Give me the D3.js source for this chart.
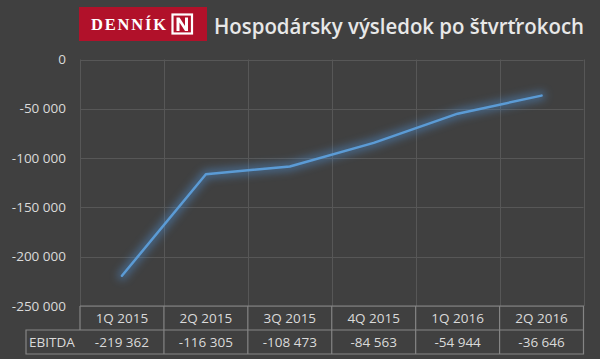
<!DOCTYPE html>
<html>
<head>
<meta charset="utf-8">
<script src="https://cdn.jsdelivr.net/npm/d3@7"></script>
<style>
  body { margin: 0; background: #404040; }
  svg { display: block; }
</style>
</head>
<body>
<svg id="chart" width="600" height="359"></svg>
<script>
// data
var quarters = ["1Q 2015", "2Q 2015", "3Q 2015", "4Q 2015", "1Q 2016", "2Q 2016"];
var ebitda = [-219362, -116305, -108473, -84563, -54944, -36646];
var yTicks = [0, -50000, -100000, -150000, -200000, -250000];
var seriesName = "EBITDA";
var title = "Hospodársky výsledok po štvrťrokoch";

var loc = d3.formatLocale({ decimal: ",", thousands: " ", grouping: [3], currency: ["", ""], minus: "-" });
var fmt = loc.format(",d");

var svg = d3.select("#chart");
var plotL = 80, plotR = 583.5, plotT = 59.5, plotB = 306;
var rowH = 24, labelLeft = 26;
var textCol = "#dadada", gridCol = "#575757", tableCol = "#858585";

svg.append("rect").attr("width", 600).attr("height", 359).attr("fill", "#404040");

var x = d3.scaleBand().domain(quarters).range([plotL, plotR]);
var y = d3.scaleLinear().domain([-250000, 0]).range([plotB, plotT]);

// glow filter
var defs = svg.append("defs");
var f = defs.append("filter").attr("id", "glow")
    .attr("x", "-20%").attr("y", "-20%").attr("width", "140%").attr("height", "140%");
f.append("feGaussianBlur").attr("in", "SourceGraphic").attr("stdDeviation", 4);

// header
svg.append("rect").attr("x", 79).attr("y", 7).attr("width", 128).attr("height", 34).attr("fill", "#b1112a");
svg.append("text").attr("x", 91).attr("y", 29.5)
    .attr("font-family", "Liberation Serif, DejaVu Serif, serif").attr("font-weight", "bold")
    .attr("font-size", 16.5).attr("fill", "#fff")
    .attr("textLength", 75).attr("lengthAdjust", "spacing")
    .text("DENNÍK");
svg.append("rect").attr("x", 172.5).attr("y", 14.5).attr("width", 19.5).attr("height", 19)
    .attr("fill", "none").attr("stroke", "#fff").attr("stroke-width", 2.2);
svg.append("path")
    .attr("d", "M176.5,31 L176.5,17.5 L179.5,17.5 L185,26 L185,17.5 L188,17.5 L188,31 L185,31 L179.5,22.5 L179.5,31 Z")
    .attr("fill", "#fff");
svg.append("text").attr("x", 214).attr("y", 33.5)
    .attr("font-family", "Open Sans, sans-serif").attr("font-weight", 600)
    .attr("font-size", 21).attr("fill", "#e8e8e8")
    .attr("textLength", 370).attr("lengthAdjust", "spacingAndGlyphs")
    .text(title);

// grid
svg.append("g").selectAll("line").data(yTicks).join("line")
    .attr("x1", plotL).attr("x2", plotR)
    .attr("y1", function (d) { return Math.round(y(d)) + 0.5; })
    .attr("y2", function (d) { return Math.round(y(d)) + 0.5; })
    .attr("stroke", gridCol).attr("stroke-width", 1);
var bounds = quarters.map(function (q) { return x(q); }).concat([plotR]);
svg.append("g").selectAll("line").data(bounds).join("line")
    .attr("x1", function (d) { return Math.round(d) + 0.5; })
    .attr("x2", function (d) { return Math.round(d) + 0.5; })
    .attr("y1", plotT).attr("y2", plotB)
    .attr("stroke", gridCol).attr("stroke-width", 1);

// y labels
svg.append("g").selectAll("text").data(yTicks).join("text")
    .attr("x", 66).attr("y", function (d) { return y(d) + 4.5; })
    .attr("text-anchor", "end")
    .attr("font-family", "Open Sans, sans-serif").attr("font-size", 13.5).attr("fill", textCol)
    .text(function (d) { return fmt(d); });

// line with glow
var line = d3.line()
    .x(function (d, i) { return x(quarters[i]) + x.bandwidth() / 2; })
    .y(function (d) { return y(d); });
svg.append("path").attr("d", line(ebitda))
    .attr("fill", "none").attr("stroke", "#4f8fd0").attr("stroke-width", 8)
    .attr("stroke-linecap", "round").attr("stroke-linejoin", "round")
    .attr("opacity", 0.55).attr("filter", "url(#glow)");
svg.append("path").attr("d", line(ebitda))
    .attr("fill", "none").attr("stroke", "#5b9bd5").attr("stroke-width", 2.5)
    .attr("stroke-linecap", "round").attr("stroke-linejoin", "round");

// data table
var t = svg.append("g").attr("font-family", "Open Sans, sans-serif").attr("font-size", 13.5).attr("fill", textCol);
t.selectAll("text.head").data(quarters).join("text").attr("class", "head")
    .attr("x", function (d) { return x(d) + x.bandwidth() / 2; })
    .attr("y", plotB + rowH / 2 + 4.5)
    .attr("text-anchor", "middle")
    .text(function (d) { return d; });
t.selectAll("text.val").data(ebitda).join("text").attr("class", "val")
    .attr("x", function (d, i) { return x(quarters[i]) + x.bandwidth() / 2; })
    .attr("y", plotB + rowH * 1.5 + 4.5)
    .attr("text-anchor", "middle")
    .text(function (d) { return fmt(d); });
t.append("text").attr("x", labelLeft + 3).attr("y", plotB + rowH * 1.5 + 4.5).text(seriesName);

var tl = svg.append("g").attr("stroke", tableCol).attr("stroke-width", 1.2).attr("fill", "none");
tl.append("path").attr("d",
    "M" + plotL + "," + plotB + "H" + plotR + "V" + (plotB + 2 * rowH) + "H" + labelLeft +
    "V" + (plotB + rowH) + "H" + plotR + "M" + labelLeft + "," + (plotB + rowH) + "H" + plotL + "V" + plotB);
tl.selectAll("line").data(bounds.slice(1, -1)).join("line")
    .attr("x1", function (d) { return d; }).attr("x2", function (d) { return d; })
    .attr("y1", plotB).attr("y2", plotB + 2 * rowH);
</script>
</body>
</html>
